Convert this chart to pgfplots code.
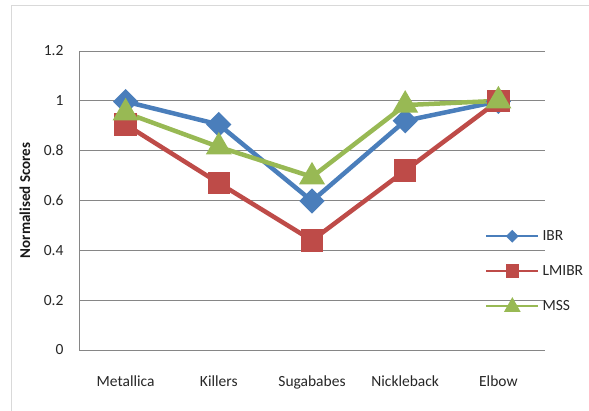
\documentclass[border=0pt]{standalone}
\usepackage{pgfplots}
\pgfplotsset{compat=1.18}
\usepackage{fontspec}
\setmainfont{Carlito}
\definecolor{ibr}{HTML}{4A7EBB}
\definecolor{lmibr}{HTML}{BE4B48}
\definecolor{mss}{HTML}{98B954}
\definecolor{gridc}{HTML}{868686}
\definecolor{framec}{HTML}{D9D9D9}
\begin{document}
\begin{tikzpicture}[x=1pt,y=1pt]
\useasboundingbox (0,0) rectangle (589,410);
\draw[framec, line width=1pt] (11,-20) -- (11,404) -- (620,404);
\begin{axis}[
  at={(79pt,60pt)}, anchor=south west,
  scale only axis, width=466pt, height=299pt,
  xmin=-0.5, xmax=4.5, ymin=0, ymax=1.2,
  xtick={0,1,2,3,4},
  xticklabels={Metallica,Killers,Sugababes,Nickleback,Elbow},
  ytick={0,0.2,0.4,0.6,0.8,1,1.2},
  yticklabels={0,0.2,0.4,0.6,0.8,1,1.2},
  axis lines=left, axis line style={-, draw=gridc, line width=0.8pt},
  ymajorgrids, grid style={draw=gridc, line width=0.8pt},
  major tick length=0pt,
  tick label style={font=\fontsize{15.5}{18}\selectfont, text=black!85},
  yticklabel style={xshift=-12pt},
  xticklabel style={yshift=-22pt},
  ylabel={\textbf{Normalised Scores}},
  every axis y label/.style={at={(axis description cs:-0.116,0.5)}, rotate=90, anchor=center,
    font=\fontsize{15}{18}\selectfont, text=black!90},
  /pgf/number format/assume math mode=true,
  legend style={draw=none, fill=none, at={(rel axis cs:0.871,0.407)}, anchor=north west,
    font=\fontsize{15.5}{18}\selectfont, text=black!85, row sep=19.5pt, inner sep=0pt,
    nodes={inner xsep=3pt}},
  legend cell align=left,
  clip=false,
]
\addplot[ibr, line width=4.5pt, mark=square*, mark size=6.7pt, mark options={rotate=45, solid},
  legend image code/.code={
    \draw[ibr, line width=2.5pt] (0pt,0pt) -- (52pt,0pt);
    \fill[ibr] (22.8pt,0pt) -- (26pt,3.2pt) -- (29.2pt,0pt) -- (26pt,-3.2pt) -- cycle;}]
  coordinates {(0,0.997)(1,0.905)(2,0.598)(3,0.920)(4,0.998)};
\addlegendentry{IBR}
\addplot[lmibr, line width=4.5pt, mark=square*, mark size=9pt, mark options={solid},
  legend image code/.code={
    \draw[lmibr, line width=2.5pt] (0pt,0pt) -- (52pt,0pt);
    \fill[lmibr] (21.5pt,-4.5pt) rectangle (30.5pt,4.5pt);}]
  coordinates {(0,0.905)(1,0.670)(2,0.440)(3,0.720)(4,1.000)};
\addlegendentry{LMIBR}
\addplot[mss, line width=4.5pt, mark=triangle*, mark size=10.5pt, mark options={solid},
  legend image code/.code={
    \draw[mss, line width=2.5pt] (0pt,0pt) -- (52pt,0pt);
    \fill[mss] (21.5pt,-3.5pt) -- (30.5pt,-3.5pt) -- (26pt,4.5pt) -- cycle;}]
  coordinates {(0,0.952)(1,0.815)(2,0.695)(3,0.983)(4,1.000)};
\addlegendentry{MSS}
\end{axis}
\end{tikzpicture}
\end{document}
